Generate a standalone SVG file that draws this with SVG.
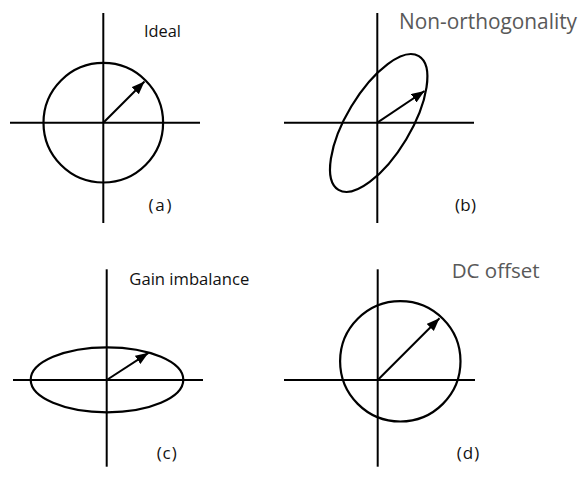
<svg xmlns="http://www.w3.org/2000/svg" width="580" height="477" viewBox="0 0 580 477">
<style>
.ax{stroke:#000;stroke-width:2;fill:none}
.sh{stroke:#000;stroke-width:2.2;fill:none}
.vec{stroke:#000;stroke-width:2;fill:none;marker-end:url(#ah)}
.t{font-family:"Open Sans","DejaVu Sans",sans-serif;fill:#111}
.g{font-family:"Open Sans","DejaVu Sans",sans-serif;fill:#595959}
.l{font-family:"Open Sans","DejaVu Sans",sans-serif;fill:#111;font-size:17px}
</style>
<defs>
<marker id="ah" markerUnits="userSpaceOnUse" markerWidth="14" markerHeight="11" refX="13" refY="5" orient="auto">
<path d="M0,0 L13,5 L0,10 Z" fill="#000"/>
</marker>
</defs>
<rect width="580" height="477" fill="#fff"/>
<g id="panel-a">
<line class="ax" x1="103.3" y1="13" x2="103.3" y2="223"/>
<line class="ax" x1="10" y1="122.7" x2="200" y2="122.7"/>
<circle class="sh" cx="103.3" cy="122.7" r="59.8"/>
<line class="vec" x1="103.3" y1="122.7" x2="144.5" y2="81.5"/>
<text class="t" x="144" y="37" font-size="16" textLength="37" lengthAdjust="spacingAndGlyphs">Ideal</text>
<text class="l" x="148.5" y="211" textLength="23" lengthAdjust="spacing">(a)</text>
</g>
<g id="panel-b">
<line class="ax" x1="377.3" y1="13" x2="377.3" y2="223"/>
<line class="ax" x1="284" y1="122.7" x2="474" y2="122.7"/>
<ellipse class="sh" cx="0" cy="0" rx="78" ry="32" transform="translate(378.7,123) rotate(-59)"/>
<line class="vec" x1="377.3" y1="122.7" x2="424.5" y2="91"/>
<text class="g" x="399" y="29" font-size="21" textLength="178" lengthAdjust="spacingAndGlyphs">Non-orthogonality</text>
<text class="l" x="455" y="211" textLength="21" lengthAdjust="spacing">(b)</text>
</g>
<g id="panel-c">
<line class="ax" x1="106.7" y1="269.3" x2="106.7" y2="466.7"/>
<line class="ax" x1="13" y1="380" x2="203" y2="380"/>
<ellipse class="sh" cx="107" cy="379.8" rx="76.3" ry="32.5"/>
<line class="vec" x1="106.7" y1="380" x2="148.5" y2="352.8"/>
<text class="t" x="129.3" y="285" font-size="16.5" textLength="120" lengthAdjust="spacingAndGlyphs">Gain imbalance</text>
<text class="l" x="156.7" y="459" textLength="20" lengthAdjust="spacing">(c)</text>
</g>
<g id="panel-d">
<line class="ax" x1="377.7" y1="269.3" x2="377.7" y2="466.7"/>
<line class="ax" x1="284" y1="380" x2="475" y2="380"/>
<circle class="sh" cx="400.3" cy="361.3" r="60.2"/>
<line class="vec" x1="377.7" y1="380" x2="439.5" y2="318.3"/>
<text class="g" x="451.7" y="278" font-size="20.5" textLength="88" lengthAdjust="spacingAndGlyphs">DC offset</text>
<text class="l" x="456.7" y="459" textLength="22.6" lengthAdjust="spacing">(d)</text>
</g>
</svg>
